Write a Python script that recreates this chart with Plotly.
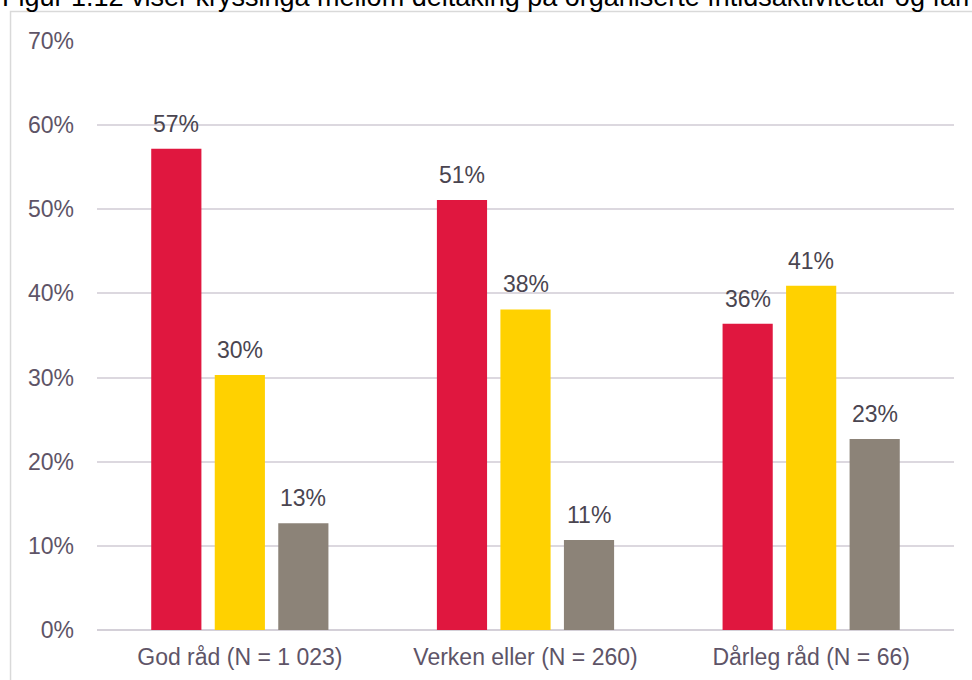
import plotly.graph_objects as go

categories = ["God råd (N = 1 023)", "Verken eller (N = 260)", "Dårleg råd (N = 66)"]
series_names = ["Serie 1", "Serie 2", "Serie 3"]
series_values = [
    [0.572, 0.511, 0.364],
    [0.303, 0.381, 0.409],
    [0.127, 0.107, 0.227],
]
series_colors = ["#E0173F", "#FFD100", "#8C8378"]
tick_vals = [0, 0.1, 0.2, 0.3, 0.4, 0.5, 0.6, 0.7]
tick_text = ["0%", "10%", "20%", "30%", "40%", "50%", "60%", "70%"]
title_text = "Figur 1.12 viser kryssinga mellom deltaking på organiserte fritidsaktivitetar og familieøkonomi"

FONT = "Liberation Sans, Arial, sans-serif"
BARGAP = 0.333
BARGROUPGAP = 0.21

fig = go.Figure()
n_series = len(series_values)
for name, vals, col in zip(series_names, series_values, series_colors):
    fig.add_trace(go.Bar(
        x=categories, y=vals, name=name,
        marker=dict(color=col, line=dict(width=0)),
        hoverinfo="x+y",
    ))

# value labels placed above each bar using the category axis positions
slot = (1 - BARGAP) / n_series
for i, vals in enumerate(series_values):
    for j, v in enumerate(vals):
        fig.add_annotation(
            xref="x", yref="y", x=j + (i - (n_series - 1) / 2) * slot, y=v,
            text=f"{int(v * 100 + 0.5)}%", showarrow=False,
            xanchor="center", yanchor="bottom", yshift=10,
            font=dict(family=FONT, size=23, color="#4A4550"),
        )

fig.update_layout(
    width=972, height=680,
    margin=dict(l=97, r=18, t=41, b=50),
    paper_bgcolor="white", plot_bgcolor="white",
    barmode="group", bargap=BARGAP, bargroupgap=BARGROUPGAP,
    showlegend=False,
    font=dict(family=FONT, size=23, color="#5E5467"),
    xaxis=dict(showgrid=False, showline=False, ticks="", ticklabelstandoff=11,
               automargin=False,
               tickfont=dict(family=FONT, size=23, color="#5E5467")),
    yaxis=dict(range=[0, 0.7], tickvals=tick_vals, ticktext=tick_text,
               showgrid=True, gridcolor="#DCD8DF", gridwidth=1.5,
               zeroline=True, zerolinecolor="#D4D0D8", zerolinewidth=1.5,
               showline=False, ticks="", ticklabelstandoff=22,
               automargin=False,
               tickfont=dict(family=FONT, size=23, color="#5E5467")),
)

# outer frame of the chart area (extends beyond the image edges)
fig.add_shape(type="rect", xref="paper", yref="paper",
              x0=-0.1009, x1=1.2, y0=-0.3, y1=1.050,
              line=dict(color="#D9D9D9", width=1.5), fillcolor="rgba(0,0,0,0)", layer="below")

# cropped caption text above the frame
fig.add_annotation(text=title_text, xref="paper", yref="paper",
                   x=-0.1132, y=1.0465, xanchor="left", yanchor="bottom",
                   showarrow=False, align="left",
                   font=dict(family=FONT, size=27, color="#000000"))

fig.write_html("out.html", config={"displayModeBar": False},
               post_script="document.body.style.margin='0';")
